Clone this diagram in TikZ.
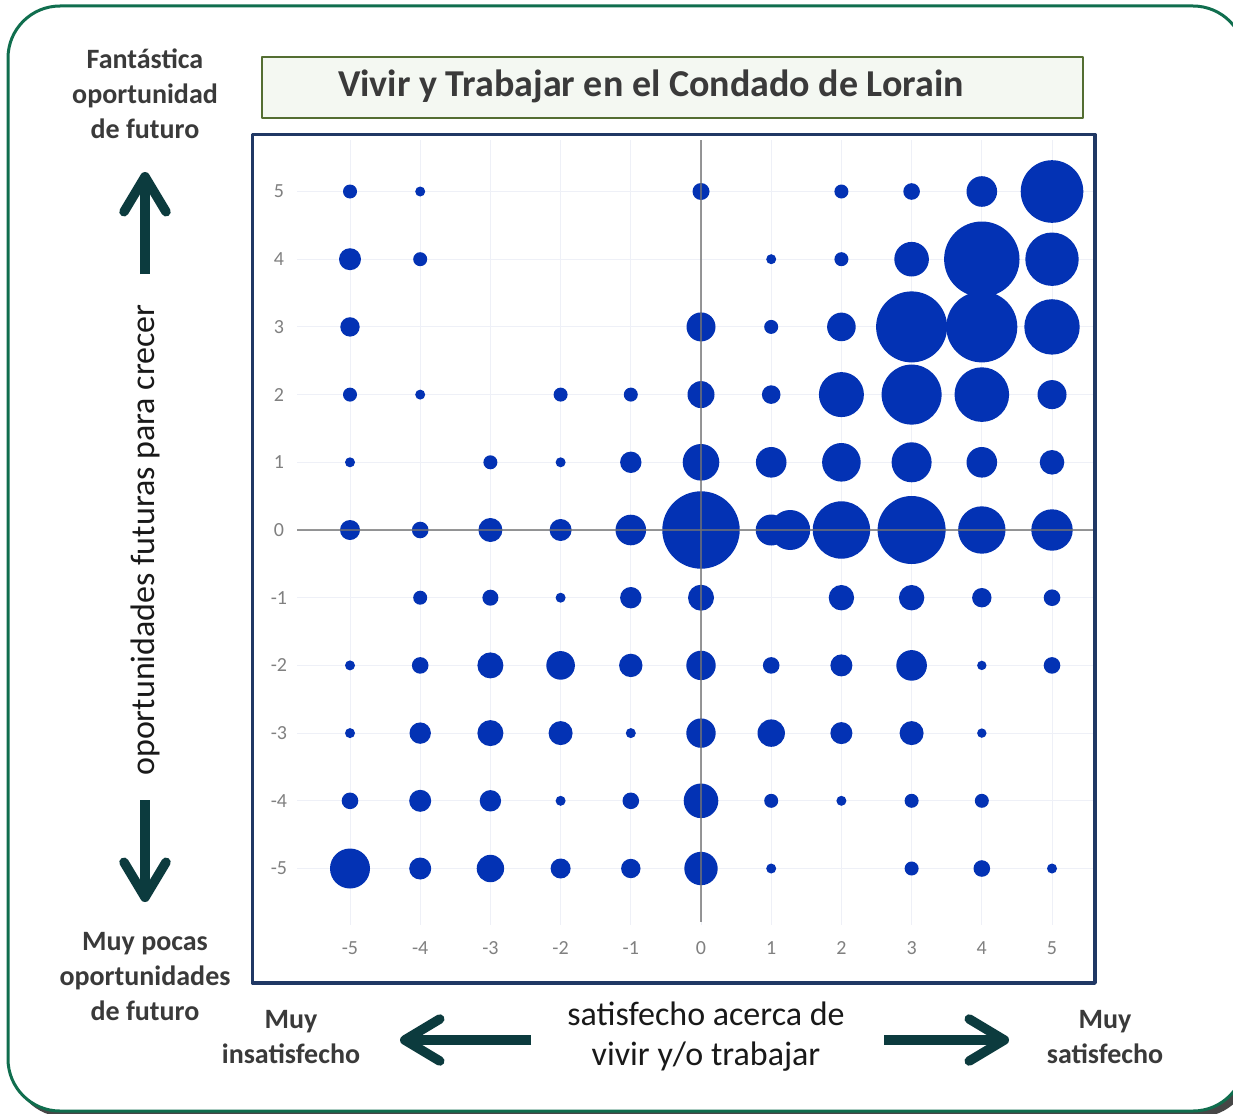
\documentclass[tikz,border=0pt]{standalone}
\usepackage{fontspec}
\setmainfont{Carlito}
\usetikzlibrary{arrows.meta}
\definecolor{marco}{RGB}{16,110,78}
\definecolor{sombra}{RGB}{70,70,70}
\definecolor{titfondo}{RGB}{244,248,242}
\definecolor{titborde}{RGB}{84,110,50}
\definecolor{azulmarco}{RGB}{32,56,100}
\definecolor{azul}{RGB}{3,50,180}
\definecolor{flechacol}{RGB}{12,59,62}
\definecolor{textocol}{RGB}{58,58,58}
\definecolor{numcol}{RGB}{128,128,128}
\definecolor{rejillacol}{RGB}{238,240,247}

\begin{document}
\begin{tikzpicture}[x=1pt,y=-1pt,line join=round,
	flecha/.style={line width=9.5pt,flechacol,-{Straight Barb[length=35pt,width=42pt,round]}},
	etiq/.style={align=center,text=textocol,font=\fontsize{28}{35}\selectfont\bfseries},
	texto/.style={align=center,text=black!90,font=\fontsize{34}{40}\selectfont},
	num/.style={text=numcol,font=\fontsize{20}{22}\selectfont},
	burbuja/.style={fill=azul},
	eje/.style={line width=2pt,black!55,opacity=.75},
	rejilla/.style={line width=1pt,rejillacol}]
	\def\ox{701} \def\oy{530} \def\ux{70.2} \def\uy{67.7}
	\useasboundingbox (0,0) rectangle (1233,1113);
	\clip (0,0) rectangle (1233,1113);
	% marco exterior con sombra
	\fill[sombra,rounded corners=52pt] (13,12) rectangle (1251,1117);
	\draw[marco,line width=3pt,fill=white,rounded corners=52pt] (8,6) rectangle (1245,1111);
	% titulo
	\draw[titborde,line width=1.5pt,fill=titfondo] (262,57) rectangle (1083,118);
	\node[text=textocol,font=\fontsize{38}{44}\selectfont\bfseries] (titulo) at (651,86) {Vivir y Trabajar en el Condado de Lorain};
	% area del grafico
	\draw[azulmarco,line width=3.5pt] (252.5,134.5) rectangle (1095,983);
	\foreach \i in {-5,...,5} {
		\draw[rejilla] ({\ox+\ux*\i},140) -- ({\ox+\ux*\i},925);
		\draw[rejilla] (297,{\oy-\uy*\i}) -- (1093,{\oy-\uy*\i});
	}
	\foreach \a/\b/\rad in {
		-5/5/7, -4/5/5, 0/5/8.5, 2/5/7, 3/5/8.3, 4/5/15.3, 5/5/31.3,
		-5/4/11, -4/4/7, 1/4/5, 2/4/7, 3/4/17.3, 4/4/37.7, 5/4/26.7,
		-5/3/9.7, 0/3/14.5, 1/3/7, 2/3/14.3, 3/3/35.5, 4/3/35.5, 5/3/27.7,
		-5/2/7, -4/2/5, -2/2/7, -1/2/7, 0/2/13.5, 1/2/9.3, 2/2/22.5, 3/2/30, 4/2/27.3, 5/2/14.5,
		-5/1/5, -3/1/7, -2/1/5, -1/1/10.7, 0/1/18.3, 1/1/15.3, 2/1/19.3, 3/1/20, 4/1/15.3, 5/1/12.3,
		-5/0/10, -4/0/8.3, -3/0/12, -2/0/11, -1/0/15.3, 0/0/38.7, 1/0/15.5, 1.27/0/20, 2/0/28.7, 3/0/34, 4/0/23.7, 5/0/20.7,
		-4/-1/7, -3/-1/8, -2/-1/5, -1/-1/10.7, 0/-1/13, 2/-1/12.7, 3/-1/12.7, 4/-1/9.7, 5/-1/8.3,
		-5/-2/5, -4/-2/8.3, -3/-2/13, -2/-2/14.3, -1/-2/11.7, 0/-2/14.7, 1/-2/8.3, 2/-2/11, 3/-2/15.3, 4/-2/4.7, 5/-2/8.3,
		-5/-3/5, -4/-3/10.7, -3/-3/13, -2/-3/12, -1/-3/5, 0/-3/14.7, 1/-3/13.7, 2/-3/11, 3/-3/12, 4/-3/4.7,
		-5/-4/8.3, -4/-4/11, -3/-4/10.7, -2/-4/5, -1/-4/8.3, 0/-4/17.3, 1/-4/7, 2/-4/5, 3/-4/7, 4/-4/7,
		-5/-5/20, -4/-5/11, -3/-5/13.7, -2/-5/10, -1/-5/9.7, 0/-5/16.7, 1/-5/5, 3/-5/7, 4/-5/8.3, 5/-5/5}
		\fill[burbuja] ({\ox+\ux*\a},{\oy-\uy*\b}) circle[radius=\rad pt];
	\draw[eje] (297,\oy) -- (1093,\oy);
	\draw[eje] (\ox,140) -- (\ox,922);
	\foreach \i in {-5,...,5} {
		\node[num] (nx\i) at ({\ox+\ux*\i},948) {\i};
		\node[num] (ny\i) at (279,{\oy-\uy*\i}) {\i};
	}
	% textos de los ejes
	\node[etiq] (arriba) at (145,94) {Fantástica\\oportunidad\\de futuro};
	\node[etiq] (abajo) at (145,977) {Muy pocas\\oportunidades\\de futuro};
	\node[texto,rotate=90] (ejey) at (145,540) {oportunidades futuras para crecer};
	\node[etiq] (izq) at (291,1037) {Muy\\insatisfecho};
	\node[texto] (ejex) at (706,1037) {satisfecho acerca de\\vivir y/o trabajar};
	\node[etiq] (der) at (1105,1037) {Muy\\satisfecho};
	% flechas
	\coordinate (sube0) at (145,274); \coordinate (sube1) at (145,172);
	\coordinate (baja0) at (145,800); \coordinate (baja1) at (145,902);
	\coordinate (izq0) at (531,1040); \coordinate (izq1) at (400,1040);
	\coordinate (der0) at (884,1040); \coordinate (der1) at (1009,1040);
	\draw[flecha] (sube0) -- (sube1);
	\draw[flecha] (baja0) -- (baja1);
	\draw[flecha] (izq0) -- (izq1);
	\draw[flecha] (der0) -- (der1);
\end{tikzpicture}
\end{document}
